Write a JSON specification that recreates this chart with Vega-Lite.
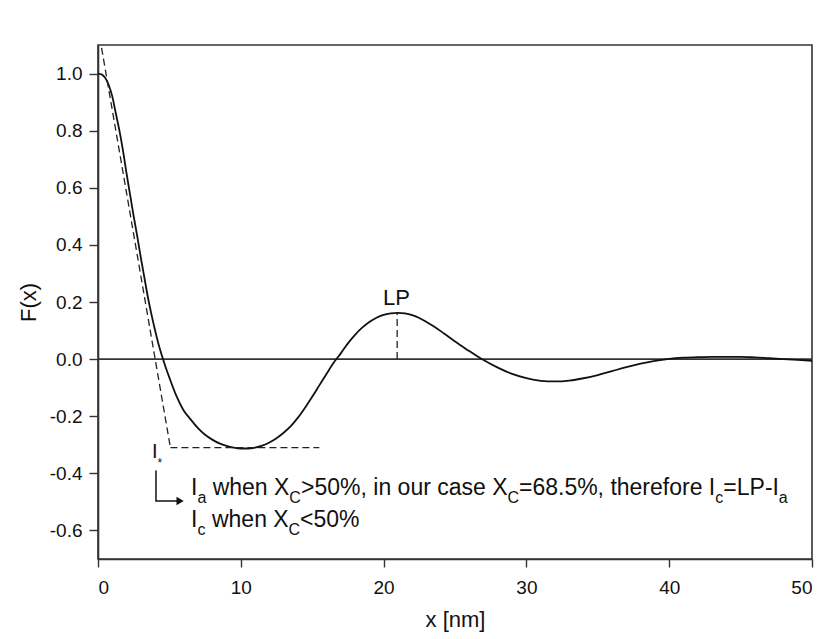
{
  "$schema": "https://vega.github.io/schema/vega-lite/v6.json",
  "width": 714,
  "height": 514,
  "autosize": {"type": "none"},
  "padding": {"left": 98, "top": 45, "right": 15, "bottom": 80},
  "background": "#ffffff",
  "config": {
    "font": "Liberation Sans",
    "view": {"stroke": "#333333", "strokeWidth": 1.6},
    "axis": {
      "grid": false,
      "domainColor": "#333333",
      "domainWidth": 1.6,
      "tickColor": "#333333",
      "tickWidth": 1.4,
      "labelFont": "Liberation Sans",
      "labelFontSize": 19,
      "labelColor": "#111111",
      "titleFont": "Liberation Sans",
      "titleFontSize": 22,
      "titleFontWeight": "normal",
      "titleColor": "#111111"
    }
  },
  "datasets": {
    "curve": [
      {"x": 0, "F": 1.0}, {"x": 0.25, "F": 0.997}, {"x": 0.5, "F": 0.985}, {"x": 0.75, "F": 0.96},
      {"x": 1.0, "F": 0.92}, {"x": 1.25, "F": 0.86}, {"x": 1.5, "F": 0.8}, {"x": 1.75, "F": 0.73},
      {"x": 2.0, "F": 0.65}, {"x": 2.25, "F": 0.575}, {"x": 2.5, "F": 0.5}, {"x": 2.75, "F": 0.43},
      {"x": 3.0, "F": 0.355}, {"x": 3.25, "F": 0.285}, {"x": 3.5, "F": 0.215}, {"x": 3.75, "F": 0.155},
      {"x": 4.0, "F": 0.1}, {"x": 4.25, "F": 0.05}, {"x": 4.5, "F": 0.008}, {"x": 4.75, "F": -0.03},
      {"x": 5.0, "F": -0.065}, {"x": 5.5, "F": -0.13}, {"x": 6.0, "F": -0.18}, {"x": 6.5, "F": -0.212},
      {"x": 7.0, "F": -0.242}, {"x": 7.5, "F": -0.265}, {"x": 8.0, "F": -0.282}, {"x": 8.5, "F": -0.295},
      {"x": 9.0, "F": -0.304}, {"x": 9.5, "F": -0.31}, {"x": 10.0, "F": -0.313}, {"x": 10.5, "F": -0.313},
      {"x": 11.0, "F": -0.31}, {"x": 11.5, "F": -0.303}, {"x": 12.0, "F": -0.292}, {"x": 12.5, "F": -0.277},
      {"x": 13.0, "F": -0.258}, {"x": 13.5, "F": -0.235}, {"x": 14.0, "F": -0.205}, {"x": 14.5, "F": -0.17},
      {"x": 15.0, "F": -0.132}, {"x": 15.5, "F": -0.092}, {"x": 16.0, "F": -0.052}, {"x": 16.5, "F": -0.013},
      {"x": 17.0, "F": 0.02}, {"x": 17.5, "F": 0.055}, {"x": 18.0, "F": 0.085}, {"x": 18.5, "F": 0.11},
      {"x": 19.0, "F": 0.13}, {"x": 19.5, "F": 0.145}, {"x": 20.0, "F": 0.155}, {"x": 20.5, "F": 0.16},
      {"x": 21.0, "F": 0.162}, {"x": 21.5, "F": 0.16}, {"x": 22.0, "F": 0.154}, {"x": 22.5, "F": 0.144},
      {"x": 23.0, "F": 0.13}, {"x": 23.5, "F": 0.115}, {"x": 24.0, "F": 0.098}, {"x": 24.5, "F": 0.08},
      {"x": 25.0, "F": 0.062}, {"x": 25.5, "F": 0.045}, {"x": 26.0, "F": 0.028}, {"x": 26.5, "F": 0.012},
      {"x": 27.0, "F": -0.003}, {"x": 28.0, "F": -0.03}, {"x": 29.0, "F": -0.052}, {"x": 30.0, "F": -0.067},
      {"x": 31.0, "F": -0.076}, {"x": 32.0, "F": -0.078}, {"x": 33.0, "F": -0.075}, {"x": 34.0, "F": -0.067},
      {"x": 35.0, "F": -0.056}, {"x": 36.0, "F": -0.042}, {"x": 37.0, "F": -0.028}, {"x": 38.0, "F": -0.016},
      {"x": 39.0, "F": -0.006}, {"x": 40.0, "F": 0.001}, {"x": 41.0, "F": 0.005}, {"x": 42.0, "F": 0.007},
      {"x": 43.0, "F": 0.008}, {"x": 44.0, "F": 0.008}, {"x": 45.0, "F": 0.008}, {"x": 46.0, "F": 0.006},
      {"x": 47.0, "F": 0.003}, {"x": 48.0, "F": 0.0}, {"x": 49.0, "F": -0.003}, {"x": 50.0, "F": -0.006}
    ],
    "guides": [
      {"seg": "tangent", "x": 0.25, "F": 1.09},
      {"seg": "tangent", "x": 5.07, "F": -0.31},
      {"seg": "floor", "x": 5.07, "F": -0.31},
      {"seg": "floor", "x": 15.5, "F": -0.31},
      {"seg": "lp", "x": 20.95, "F": 0.0},
      {"seg": "lp", "x": 20.95, "F": 0.162}
    ],
    "arrow": [
      {"o": 1, "x": 4.06, "F": -0.39},
      {"o": 2, "x": 4.06, "F": -0.497},
      {"o": 3, "x": 5.6, "F": -0.497}
    ],
    "mainText": [
      {"x": 6.51, "F": -0.476, "t": "I"},
      {"x": 8.03, "F": -0.476, "t": "when X"},
      {"x": 14.22, "F": -0.476, "t": ">50%, in our case X"},
      {"x": 29.48, "F": -0.476, "t": "=68.5%, therefore I"},
      {"x": 43.79, "F": -0.476, "t": "=LP-I"},
      {"x": 6.51, "F": -0.588, "t": "I"},
      {"x": 7.98, "F": -0.588, "t": "when X"},
      {"x": 14.15, "F": -0.588, "t": "<50%"}
    ],
    "subText": [
      {"x": 6.96, "F": -0.476, "t": "a"},
      {"x": 13.4, "F": -0.476, "t": "C"},
      {"x": 28.68, "F": -0.476, "t": "C"},
      {"x": 43.23, "F": -0.476, "t": "c"},
      {"x": 47.68, "F": -0.476, "t": "a"},
      {"x": 6.96, "F": -0.588, "t": "c"},
      {"x": 13.34, "F": -0.588, "t": "C"}
    ]
  },
  "encoding": {
    "x": {
      "field": "x", "type": "quantitative",
      "scale": {"domain": [0, 50], "nice": false, "zero": false},
      "axis": {"title": "x [nm]", "values": [0, 10, 20, 30, 40, 50], "tickSize": 8, "labelPadding": 11, "titlePadding": 12}
    },
    "y": {
      "field": "F", "type": "quantitative",
      "scale": {"domain": [-0.7, 1.1], "nice": false, "zero": false},
      "axis": {
        "title": "F(x)",
        "values": [-0.6, -0.4, -0.2, 0, 0.2, 0.4, 0.6, 0.8, 1.0],
        "labelExpr": "replace(format(datum.value, '.1f'), '\u2212', '-')",
        "tickSize": 9, "labelPadding": 7, "titlePadding": 9
      }
    }
  },
  "layer": [
    {
      "data": {"values": [{"F": 0}]},
      "mark": {"type": "rule", "color": "#333333", "strokeWidth": 1.8},
      "encoding": {"x": null}
    },
    {
      "data": {"name": "curve"},
      "mark": {"type": "line", "color": "#111111", "strokeWidth": 1.8, "interpolate": "monotone"}
    },
    {
      "data": {"name": "guides"},
      "mark": {"type": "line", "color": "#222222", "strokeWidth": 1.3, "strokeDash": [7, 4]},
      "encoding": {"detail": {"field": "seg"}}
    },
    {
      "data": {"name": "arrow"},
      "mark": {"type": "line", "color": "#111111", "strokeWidth": 1.5},
      "encoding": {"order": {"field": "o"}}
    },
    {
      "data": {"values": [{"x": 5.75, "F": -0.497}]},
      "mark": {"type": "point", "shape": "triangle-right", "filled": true, "color": "#111111", "size": 70, "opacity": 1}
    },
    {
      "data": {"values": [{"x": 20.9, "F": 0.189, "t": "LP"}]},
      "mark": {"type": "text", "fontSize": 22, "align": "center", "baseline": "alphabetic", "color": "#111111"},
      "encoding": {"text": {"field": "t"}}
    },
    {
      "data": {"values": [{"x": 3.78, "F": -0.346, "t": "I"}]},
      "mark": {"type": "text", "fontSize": 20, "align": "left", "baseline": "alphabetic", "color": "#111111"},
      "encoding": {"text": {"field": "t"}}
    },
    {
      "data": {"values": [{"x": 4.17, "F": -0.346, "t": "*"}]},
      "mark": {"type": "text", "fontSize": 12, "align": "left", "baseline": "alphabetic", "dy": 9, "color": "#111111"},
      "encoding": {"text": {"field": "t"}}
    },
    {
      "data": {"name": "mainText"},
      "mark": {"type": "text", "fontSize": 23, "align": "left", "baseline": "alphabetic", "color": "#111111"},
      "encoding": {"text": {"field": "t"}}
    },
    {
      "data": {"name": "subText"},
      "mark": {"type": "text", "fontSize": 16, "align": "left", "baseline": "alphabetic", "dy": 8, "color": "#111111"},
      "encoding": {"text": {"field": "t"}}
    }
  ]
}
